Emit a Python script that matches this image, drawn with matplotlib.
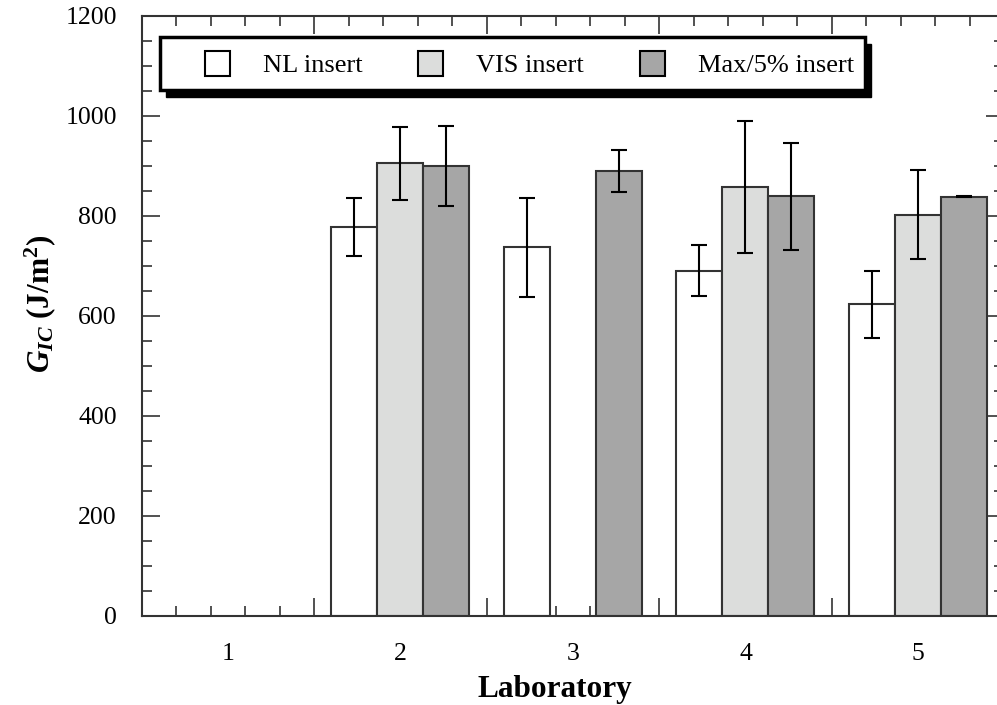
import numpy as np
import matplotlib.pyplot as plt
from matplotlib.patches import Rectangle, Patch
from matplotlib.ticker import MultipleLocator, FixedLocator

plt.rcParams['font.family'] = ['Liberation Serif', 'DejaVu Serif']
plt.rcParams['mathtext.fontset'] = 'custom'
plt.rcParams['mathtext.rm'] = 'Liberation Serif'
plt.rcParams['mathtext.it'] = 'Liberation Serif:italic'
plt.rcParams['mathtext.bf'] = 'Liberation Serif:bold'
plt.rcParams['mathtext.bfit'] = 'Liberation Serif:italic:bold'

# G_IC per laboratory and insert type (nan = not measured)
labs = [1, 2, 3, 4, 5]
series = ['NL insert', 'VIS insert', 'Max/5% insert']
nl_mean = [np.nan, 778, 737, 690, 623]
nl_err = [np.nan, 58, 99, 51, 67]
vis_mean = [np.nan, 905, np.nan, 858, 802]
vis_err = [np.nan, 73, np.nan, 132, 89]
max_mean = [np.nan, 899, 889, 839, 838]
max_err = [np.nan, 80, 42, 107, 1]

means = [nl_mean, vis_mean, max_mean]
errs = [nl_err, vis_err, max_err]
colors = ['white', '#dcdddc', '#a6a6a6']

fig = plt.figure(figsize=(9.97, 7.05), dpi=100)
ax = fig.add_axes([141.7/997, 89.5/705, 862.5/997, 600/705])

width = 0.8/3
x = np.array(labs, dtype=float)
for i in range(3):
    pos = x + (i - 1)*width
    ax.bar(pos, means[i], width, color=colors[i], edgecolor='#333333',
           linewidth=1.5, zorder=2)
    ax.errorbar(pos, means[i], yerr=errs[i], fmt='none', ecolor='black',
                elinewidth=1.5, capsize=5.5, capthick=1.5, zorder=3)

ax.set_xlim(0.5, 5.5)
ax.set_ylim(0, 1200)

# long ticks at the group boundaries, short ones every 0.2
ax.xaxis.set_major_locator(FixedLocator(np.arange(0.5, 5.6, 1.0)))
ax.xaxis.set_minor_locator(FixedLocator(np.arange(0.5, 5.6, 0.2)))
ax.set_xticklabels([])
ax.yaxis.set_major_locator(MultipleLocator(200))
ax.yaxis.set_minor_locator(MultipleLocator(50))
ax.tick_params(which='both', direction='in', top=True, right=True,
               color='#333333')
ax.tick_params(which='major', length=13, width=1.2)
ax.tick_params(which='minor', length=7, width=1.2)
ax.tick_params(axis='y', labelsize=18.5, pad=18)
for s in ax.spines.values():
    s.set_linewidth(1.5)
    s.set_color('#333333')

# laboratory numbers centred under each group
sec = ax.secondary_xaxis('bottom')
sec.set_xticks(labs)
sec.set_xticklabels([str(l) for l in labs])
sec.tick_params(length=0, labelsize=18.5, pad=20)
sec.spines['bottom'].set_visible(False)
sec.set_xlabel('Laboratory', fontsize=22.5, fontweight='bold')
sec.xaxis.set_label_coords(0.479, -0.099, transform=ax.transAxes)

ax.set_ylabel(r'$\mathbfit{G}_{\mathbfit{IC}}$ (J/m$^{\mathbf{2}}$)',
              fontsize=22.5, fontweight='bold')
ax.yaxis.set_label_coords(-0.097, 0.52)

# legend box with a solid drop shadow
fx0, fy0 = (160 - 141.7)/862.5, (615.5 - 90)/600
fw, fh = (865 - 160)/862.5, 53/600
ax.add_patch(Rectangle((fx0 + 6/862.5, fy0 - 7/600), fw, fh,
                       transform=ax.transAxes, facecolor='black',
                       edgecolor='black', zorder=5, clip_on=False))
ax.add_patch(Rectangle((fx0, fy0), fw, fh, transform=ax.transAxes,
                       facecolor='white', edgecolor='black', linewidth=2.5,
                       zorder=6, clip_on=False))
handles = [Patch(facecolor=c, edgecolor='black', linewidth=1.5) for c in colors]
leg = ax.legend(handles, series, ncol=3, loc='center',
                bbox_to_anchor=((529.5 - 141.7)/862.5, (615.5 - 64)/600),
                frameon=False, fontsize=19, handlelength=0.95,
                handleheight=1.08, handletextpad=1.25, columnspacing=2.1,
                borderpad=0, borderaxespad=0)
leg.set_zorder(7)

fig.savefig('out.png', dpi=100)
